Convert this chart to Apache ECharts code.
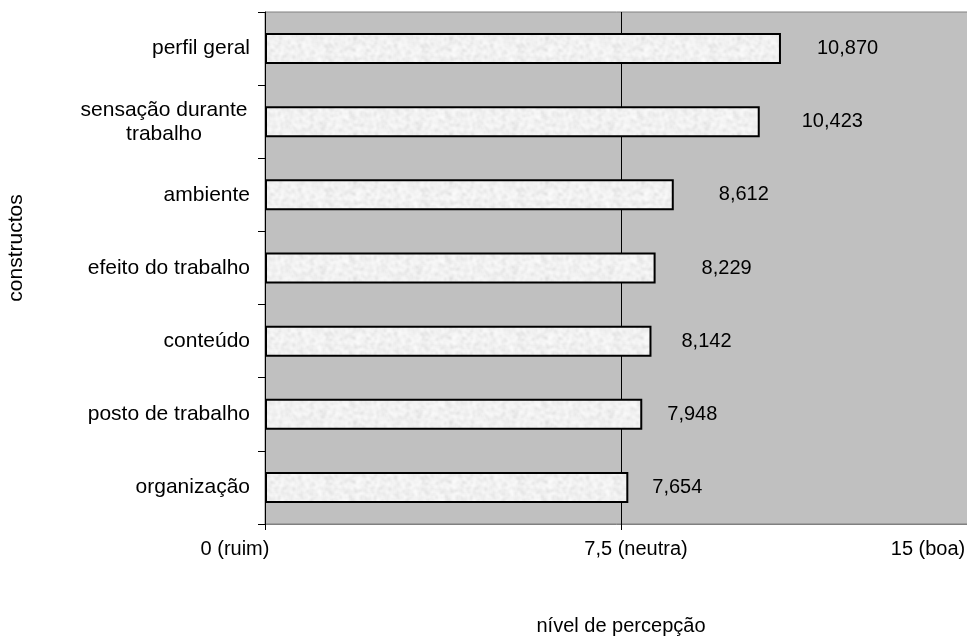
<!DOCTYPE html>
<html>
<head>
<meta charset="utf-8">
<script src="https://cdn.jsdelivr.net/npm/echarts@6/dist/echarts.min.js"></script>
<style>
html,body{margin:0;padding:0;background:#fff;}
#c{width:967px;height:636px;}
</style>
</head>
<body>
<div id="c"></div>
<script>
// ---- data ----
var categories = ['perfil geral', 'sensação durante\ntrabalho', 'ambiente', 'efeito do trabalho', 'conteúdo', 'posto de trabalho', 'organização'];
var values = [10.870, 10.423, 8.612, 8.229, 8.142, 7.948, 7.654];
var xTickValues = [0, 7.5, 15];
var xTickLabels = ['0 (ruim)', '7,5 (neutra)', '15 (boa)'];
var xAxisTitle = 'nível de percepção';
var yAxisTitle = 'constructos';

// ---- styles (not data) ----
var labelGaps = [36, 42, 45, 46, 30, 25, 24];
var tickLabelPads = [[0, 60, 0, 0], [0, 0, 0, 30], [0, 98, 0, 0]];
var FONT = '"Liberation Sans", Arial, sans-serif';

// soft mottled texture for bars (deterministic, style only)
function hash(a, b) {
  var h = ((a * 374761393) ^ (b * 668265263)) >>> 0;
  h = ((h ^ (h >>> 13)) * 1274126177) >>> 0;
  return (h ^ (h >>> 16)) >>> 0;
}
function makeTexture() {
  var w = 96, h = 48, x, y, k;
  var g = new Float32Array(w * h);
  for (y = 0; y < h; y++) {
    for (x = 0; x < w; x++) {
      var m = hash(x, y) % 10;
      var v = 244;
      if (m === 0) v = 200;
      else if (m === 1) v = 220;
      else if (m < 5) v = 255;
      g[y * w + x] = v;
    }
  }
  for (k = 0; k < 2; k++) {
    var o = new Float32Array(w * h);
    for (y = 0; y < h; y++) {
      for (x = 0; x < w; x++) {
        var s = 0;
        for (var dy = -1; dy <= 1; dy++) for (var dx = -1; dx <= 1; dx++) {
          s += g[((y + dy + h) % h) * w + ((x + dx + w) % w)];
        }
        o[y * w + x] = s / 9;
      }
    }
    g = o;
  }
  var cv = document.createElement('canvas');
  cv.width = w; cv.height = h;
  var ctx = cv.getContext('2d');
  var img = ctx.createImageData(w, h);
  for (var i = 0; i < w * h; i++) {
    var c = Math.min(255, Math.round(g[i]));
    img.data[i * 4] = c; img.data[i * 4 + 1] = c; img.data[i * 4 + 2] = c; img.data[i * 4 + 3] = 255;
  }
  ctx.putImageData(img, 0, 0);
  return cv;
}
var tex = makeTexture();

var seriesData = values.map(function (v, i) {
  return { value: v, label: { distance: labelGaps[i] } };
});

var richX = {};
xTickLabels.forEach(function (t, i) {
  richX['t' + i] = { padding: tickLabelPads[i], fontSize: 20, fontFamily: FONT, color: '#000' };
});

var chart = echarts.init(document.getElementById('c'), null, { renderer: 'canvas' });
chart.setOption({
  animation: false,
  backgroundColor: '#ffffff',
  grid: {
    left: 265, top: 12, right: -10, bottom: 112,
    show: true, backgroundColor: '#c0c0c0', borderColor: '#808080', borderWidth: 1,
    containLabel: false, outerBoundsMode: 'none'
  },
  xAxis: {
    type: 'value', min: 0, max: 15, interval: 7.5,
    name: xAxisTitle, nameLocation: 'middle', nameGap: 92,
    nameTextStyle: { fontSize: 20, fontFamily: FONT, color: '#000' },
    axisLine: { show: true, lineStyle: { color: '#808080', width: 1 } },
    axisTick: { show: true, length: 6, lineStyle: { color: '#000' } },
    splitLine: { show: true, lineStyle: { color: '#000', width: 1 } },
    axisLabel: {
      margin: 15, fontSize: 20, fontFamily: FONT, color: '#000',
      formatter: function (v) {
        var i = xTickValues.indexOf(v);
        return i >= 0 ? '{t' + i + '|' + xTickLabels[i] + '}' : '';
      },
      rich: richX
    }
  },
  yAxis: {
    type: 'category', data: categories, inverse: true,
    name: yAxisTitle, nameLocation: 'middle', nameGap: 238, nameRotate: 90,
    nameTextStyle: { fontSize: 21, fontFamily: FONT, color: '#000', padding: [0, 0, 0, 40] },
    axisLine: { show: true, lineStyle: { color: '#000', width: 1 } },
    axisTick: { show: true, length: 7, lineStyle: { color: '#000' } },
    splitLine: { show: false },
    axisLabel: {
      margin: 15, fontSize: 21, fontFamily: FONT, color: '#000', lineHeight: 24,
      formatter: function (v) {
        if (v.indexOf('\n') >= 0) return '{c|' + v + '}';
        return v;
      },
      rich: { c: { width: 172, align: 'center', fontSize: 21, fontFamily: FONT, color: '#000', lineHeight: 24 } }
    }
  },
  series: [{
    type: 'bar',
    data: seriesData,
    barWidth: 31,
    itemStyle: { color: { image: tex, repeat: 'repeat' }, borderColor: '#000', borderWidth: 2 },
    label: {
      show: true, position: 'right', fontSize: 20, fontFamily: FONT, color: '#000',
      formatter: function (p) { return p.value.toFixed(3).replace('.', ','); }
    }
  }]
});
</script>
</body>
</html>
